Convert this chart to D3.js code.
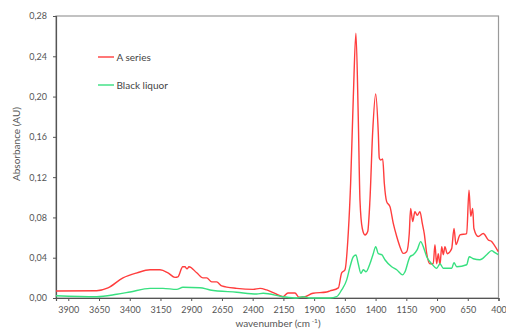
<!DOCTYPE html>
<html><head><meta charset="utf-8">
<script src="https://cdn.jsdelivr.net/npm/d3@7"></script>
<style>body{margin:0;background:#fff}svg{display:block}</style>
</head><body><div id="chart"></div>
<script>
const seriesNames = ["A series", "Black liquor"];
const xTicks = [3900,3650,3400,3150,2900,2650,2400,2150,1900,1650,1400,1150,900,650,400];
const yTicks = [0,0.04,0.08,0.12,0.16,0.20,0.24,0.28];
const aSeries = [
[4000,0.007],[3669,0.0072],[3577,0.010],[3455,0.020],[3341,0.025],[3235,0.028],[3154,0.028],[3089,0.025],
[3032,0.0205],[3008,0.021],[2969,0.031],[2951,0.031],[2934,0.029],[2918,0.031],[2855,0.025],[2804,0.020],
[2774,0.020],[2733,0.016],[2693,0.016],[2652,0.012],[2530,0.0096],[2397,0.0086],[2340,0.0096],[2286,0.008],
[2205,0.0037],[2153,0.0013],[2113,0.005],[2056,0.005],[2023,0.0007],[1983,0.001],[1909,0.0047],[1798,0.006],
[1771,0.007],[1703,0.010],[1676,0.025],[1649,0.028],[1622,0.065],[1603,0.114],[1581,0.20],[1560,0.263],
[1541,0.18],[1527,0.097],[1508,0.069],[1486,0.0626],[1464,0.066],[1446,0.097],[1424,0.164],[1399,0.2026],
[1378,0.164],[1370,0.139],[1359,0.137],[1342,0.138],[1329,0.114],[1310,0.0957],[1283,0.0907],[1256,0.074],
[1228,0.061],[1202,0.051],[1175,0.0443],[1147,0.046],[1126,0.064],[1115,0.089],[1098,0.076],[1080,0.0857],
[1061,0.082],[1039,0.0857],[1020,0.074],[1004,0.064],[984,0.044],[958,0.034],[931,0.034],[917,0.053],
[903,0.034],[890,0.044],[876,0.033],[862,0.051],[849,0.043],[836,0.051],[817,0.044],[781,0.049],
[762,0.069],[746,0.053],[713,0.0626],[659,0.064],[640,0.107],[626,0.081],[610,0.089],[600,0.069],
[565,0.061],[524,0.064],[483,0.0576],[456,0.056],[437,0.053],[402,0.046]
];
const blackLiquor = [
[4000,0.0023],[3669,0.0013],[3506,0.0037],[3398,0.006],[3235,0.0096],[3130,0.0096],[3018,0.0086],[2967,0.0106],
[2829,0.0102],[2747,0.008],[2530,0.0057],[2367,0.004],[2314,0.0047],[2153,0.0013],[2042,0.0],[1991,0.0013],
[1934,0.0],[1771,0.0],[1717,0.0013],[1676,0.008],[1635,0.018],[1608,0.031],[1581,0.041],[1560,0.0427],
[1541,0.034],[1519,0.0245],[1500,0.028],[1478,0.026],[1446,0.034],[1419,0.044],[1399,0.051],[1378,0.044],
[1350,0.043],[1324,0.038],[1269,0.031],[1228,0.028],[1180,0.023],[1161,0.026],[1120,0.041],[1093,0.043],
[1061,0.048],[1033,0.056],[1012,0.051],[984,0.041],[944,0.034],[903,0.0295],[876,0.034],[849,0.0295],
[781,0.0295],[762,0.035],[740,0.031],[659,0.033],[638,0.041],[605,0.039],[551,0.038],[496,0.043],
[456,0.047],[429,0.045],[402,0.043]
];
const colors = ["#ff3d3d", "#38e080"];

const W = 506, H = 332;
const L = 56, R = 498.5, T = 16, B = 298;
const svg = d3.select("#chart").append("svg").attr("width", W).attr("height", H)
  .style("font-family", "Lato, 'Open Sans', sans-serif");

const x = d3.scaleLinear().domain([4000, 400]).range([L, R]);
const y = d3.scaleLinear().domain([0, 0.28]).range([B, T]);

// frame
svg.append("rect").attr("x", L).attr("y", T).attr("width", R - L).attr("height", B - T)
  .attr("fill", "none").attr("stroke", "#9a9a9a").attr("stroke-width", 1.2);

const fmt = d => d3.format(".2f")(d).replace(".", ",");
const ya = svg.append("g").attr("transform", `translate(${L},0)`)
  .call(d3.axisLeft(y).tickValues(yTicks).tickFormat(fmt).tickSize(3).tickPadding(6));
const xa = svg.append("g").attr("transform", `translate(0,${B})`)
  .call(d3.axisBottom(x).tickValues(xTicks).tickFormat(d3.format("d")).tickSize(3).tickPadding(6));
[ya, xa].forEach(g => {
  g.select(".domain").attr("stroke", "#555").attr("stroke-width", 1.2);
  g.selectAll(".tick line").attr("stroke", "#555");
  g.selectAll("text").attr("fill", "#555").style("font-size", "9px").style("font-family", "Lato, 'Open Sans', sans-serif");
});

const line = d3.line().x(d => x(d[0])).y(d => y(d[1])).curve(d3.curveMonotoneX);
[aSeries, blackLiquor].forEach((s, i) => {
  svg.append("path").datum(s).attr("d", line).attr("fill", "none")
    .attr("stroke", colors[i]).attr("stroke-width", 1.4).attr("stroke-linejoin", "round");
});

// legend
const legY = [57, 85];
seriesNames.forEach((n, i) => {
  svg.append("line").attr("x1", 98).attr("x2", 114).attr("y1", legY[i]).attr("y2", legY[i])
    .attr("stroke", colors[i]).attr("stroke-width", 1.4);
  svg.append("text").attr("x", 116.5).attr("y", legY[i]).attr("dy", "0.35em")
    .attr("fill", "#444").style("font-size", "10px").text(n);
});

// axis titles
svg.append("text").attr("transform", "translate(16,144) rotate(-90)").attr("text-anchor", "middle")
  .attr("dy", "0.35em").attr("fill", "#555").style("font-size", "10px").text("Absorbance (AU)");
const xt = svg.append("text").attr("x", 278).attr("y", 327).attr("text-anchor", "middle")
  .attr("fill", "#555").style("font-size", "10px");
xt.append("tspan").text("wavenumber (cm");
xt.append("tspan").attr("dy", "-4").style("font-size", "6.5px").text(" -1");
xt.append("tspan").attr("dy", "4").text(")");
</script></body></html>
